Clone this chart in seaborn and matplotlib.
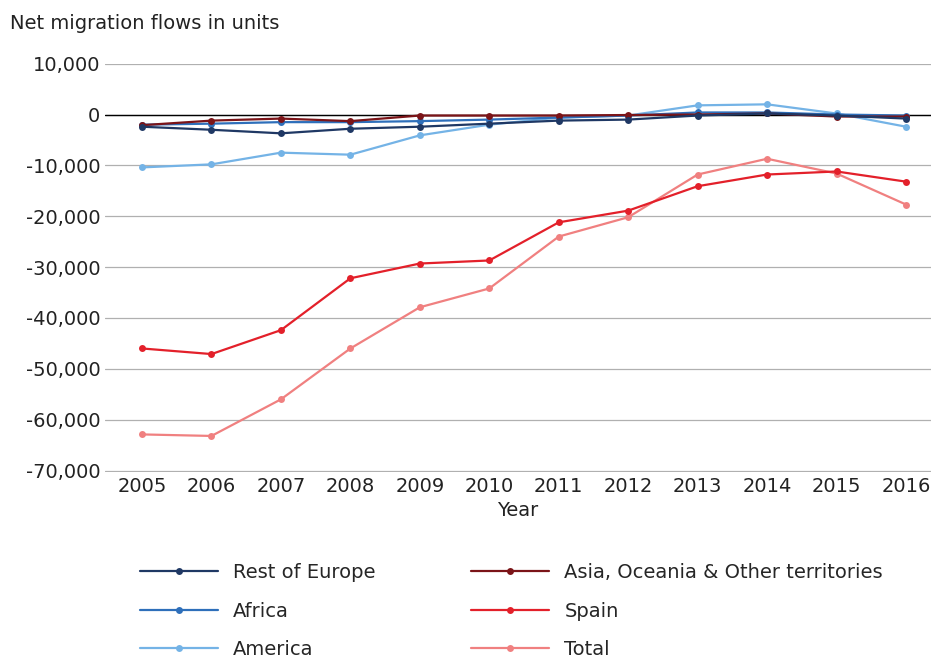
import matplotlib
matplotlib.use("Agg")
import matplotlib.pyplot as plt
import seaborn as sns
import pandas as pd

years = list(range(2005, 2017))
rest_of_europe = [-2400, -3000, -3700, -2800, -2400, -1800, -1200, -1000, -200, 200, -200, -800]
asia_oceania = [-2100, -1200, -800, -1300, -200, -200, -200, -100, 0, 200, -400, -400]
africa = [-2000, -1800, -1500, -1500, -1300, -1000, -600, -200, 400, 400, 0, -200]
spain = [-46000, -47100, -42400, -32200, -29300, -28700, -21200, -18900, -14100, -11800, -11200, -13200]
america = [-10400, -9800, -7500, -7900, -4100, -2000, -600, -200, 1800, 2000, 200, -2400]
total = [-62900, -63200, -56000, -46000, -37900, -34200, -24000, -20200, -11800, -8700, -11600, -17700]

series = {
    "Rest of Europe": rest_of_europe,
    "Africa": africa,
    "America": america,
    "Asia, Oceania & Other territories": asia_oceania,
    "Spain": spain,
    "Total": total,
}
colors = {
    "Rest of Europe": "#1f3864",
    "Africa": "#2e6fba",
    "America": "#74b3e6",
    "Asia, Oceania & Other territories": "#7b1418",
    "Spain": "#e3202a",
    "Total": "#f08080",
}

df = pd.DataFrame([(y, name, v) for name, vals in series.items() for y, v in zip(years, vals)],
                  columns=["Year", "Region", "Value"])

sns.set_theme(style="white")
plt.rcParams["font.family"] = ["DejaVu Sans"]

fig = plt.figure(figsize=(9.31, 6.63), dpi=100)
ax = fig.add_axes([0.113, 0.288, 0.887, 0.616])

ax.axhline(0, color="black", linewidth=1, zorder=1)
draw_order = ["Total", "Spain", "America", "Africa", "Asia, Oceania & Other territories", "Rest of Europe"]
for name in draw_order:
    sub = df[df["Region"] == name]
    sns.lineplot(data=sub, x="Year", y="Value", ax=ax, color=colors[name], marker="o",
                 markersize=5, markeredgewidth=0, linewidth=1.6, label=name, zorder=3)

ax.set_xlim(2004.47, 2016.36)
ax.set_ylim(-70300, 10000)
ax.set_yticks(range(-70000, 10001, 10000))
ax.set_yticklabels([f"{v:,}" for v in range(-70000, 10001, 10000)])
ax.set_xticks(years)
ax.yaxis.grid(True, color="#b0b0b0", linewidth=0.9)
ax.xaxis.grid(False)
for s in ax.spines.values():
    s.set_visible(False)
ax.tick_params(axis="both", length=0, labelsize=14, colors="#222222")
ax.set_ylabel("")
ax.set_xlabel("Year", fontsize=14, color="#222222", labelpad=4)
fig.text(0.011, 0.965, "Net migration flows in units", fontsize=14, color="#222222", va="center")

handles, labels = ax.get_legend_handles_labels()
hmap = dict(zip(labels, handles))
order = list(series.keys())
ax.legend([hmap[n] for n in order], order, loc="upper center", bbox_to_anchor=(0.492, -0.18),
          ncol=2, frameon=False, fontsize=14, handlelength=4, columnspacing=4.9,
          labelspacing=1.0)

fig.savefig("out.png", dpi=100)
